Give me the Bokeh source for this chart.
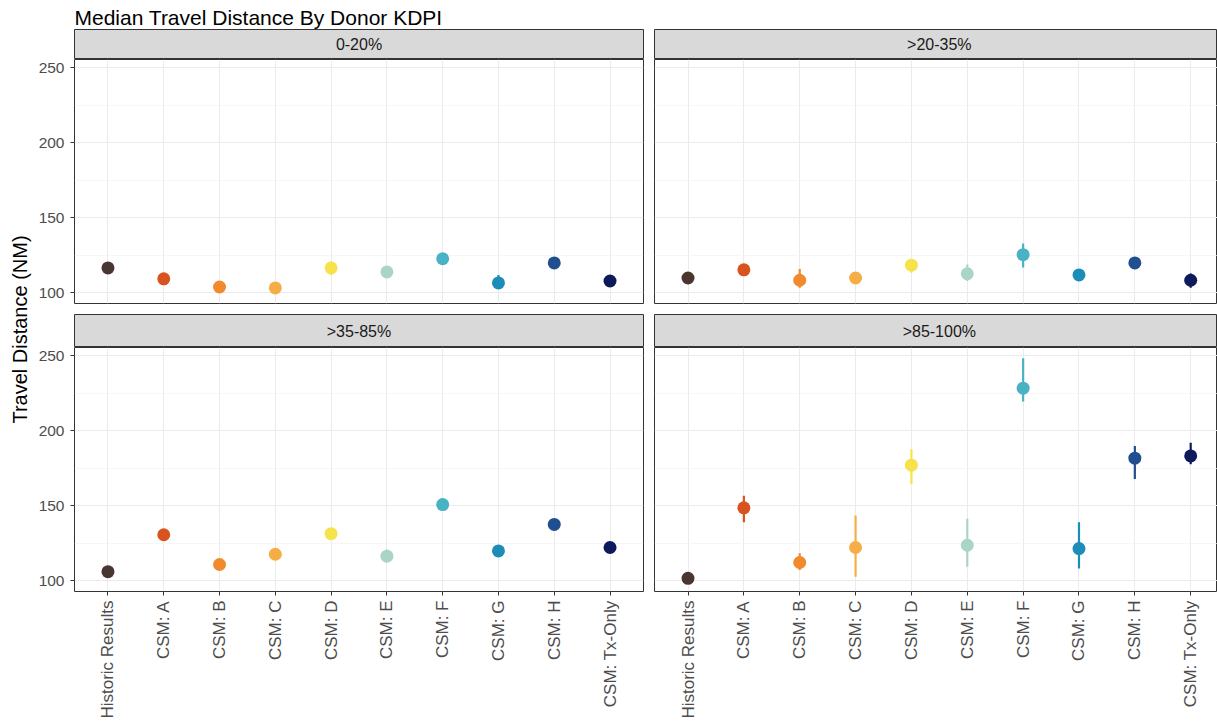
import math
from bokeh.plotting import figure
from bokeh.models import Range1d, FixedTicker, ColumnDataSource
from bokeh.layouts import row, column
from bokeh.core.properties import value
from bokeh.embed import file_html
from bokeh.resources import INLINE

# ---------------- data ----------------
categories = ["Historic Results", "CSM: A", "CSM: B", "CSM: C", "CSM: D",
              "CSM: E", "CSM: F", "CSM: G", "CSM: H", "CSM: Tx-Only"]
colors = ["#4A3631", "#D9531E", "#F08A2C", "#F5AE45", "#F6E24A",
          "#AAD5C6", "#49B3C5", "#1C8DB8", "#214E8F", "#0D1B5C"]

panel_labels = ["0-20%", ">20-35%", ">35-85%", ">85-100%"]

med_0_20 = [116.7, 109.4, 104.0, 103.4, 116.7, 114.0, 122.8, 106.7, 120.0, 108.0]
lo_0_20 = [115.0, 108.0, 102.0, 102.0, 112.0, 111.0, 120.0, 103.0, 118.0, 106.5]
hi_0_20 = [118.5, 111.0, 106.0, 105.0, 121.0, 117.0, 126.0, 112.0, 122.0, 110.0]

med_20_35 = [110.0, 115.4, 108.5, 110.0, 118.5, 112.8, 125.5, 112.0, 120.0, 108.5]
lo_20_35 = [108.5, 113.5, 103.5, 108.0, 113.5, 108.0, 117.0, 110.0, 118.0, 103.5]
hi_20_35 = [111.5, 117.5, 116.0, 112.0, 122.0, 119.0, 133.0, 114.0, 122.0, 113.0]

med_35_85 = [106.2, 130.8, 111.0, 117.8, 131.5, 116.5, 150.9, 120.0, 137.7, 122.3]
lo_35_85 = [104.5, 129.0, 109.0, 116.0, 129.5, 113.0, 149.0, 118.0, 136.0, 120.5]
hi_35_85 = [108.0, 132.5, 113.0, 119.5, 133.5, 121.0, 153.0, 122.0, 139.5, 124.0]

med_85_100 = [101.8, 148.7, 112.3, 122.3, 177.1, 123.8, 228.4, 121.6, 181.8, 183.3]
lo_85_100 = [100.5, 139.2, 107.3, 102.9, 164.6, 109.5, 219.6, 108.4, 167.9, 177.8]
hi_85_100 = [103.0, 156.8, 118.5, 143.6, 187.7, 141.4, 248.3, 139.2, 189.9, 192.1]

y_ticks = [100, 150, 200, 250]
y_minor = [125, 175, 225]

title_text = "Median Travel Distance By Donor KDPI"
y_label = "Travel Distance (NM)"

# ---------------- style / layout ----------------
FONT = "Liberation Sans"
Y_MIN, Y_MAX = 93.0, 255.5
X_START = -0.6
X_END_LEFT = len(categories) - 1 + 0.6
X_END_RIGHT = len(categories) - 1 + 0.48
YLAB_W = 34
LEFT_BORDER = 40
GAP = 11
FRAME_W_LEFT = 569
FRAME_W_RIGHT = 563
FRAME_H = 244
TITLE_H = 29
STRIP1_H = 30
STRIP2_H = 33
XLAB_H = 130
TOTAL_H = TITLE_H + STRIP1_H + FRAME_H + GAP + STRIP2_H + FRAME_H + XLAB_H
GRID_COLOR = "#EBEBEB"
BORDER_COLOR = "#333333"


def base_fig(frame_w, frame_h, xr, yr, left, **kw):
    p = figure(frame_width=frame_w, frame_height=frame_h, x_range=xr, y_range=yr,
               x_axis_location=None, y_axis_location=None,
               toolbar_location=None, output_backend="svg",
               min_border_left=(LEFT_BORDER if left else 0),
               min_border_right=(GAP if left else 0),
               min_border_top=0, min_border_bottom=0, **kw)
    return p


def make_strip(label, left, height):
    xr = Range1d(X_START, X_END_LEFT if left else X_END_RIGHT)
    s = base_fig(FRAME_W_LEFT if left else FRAME_W_RIGHT, height, xr, Range1d(0, 1), left,
                 background_fill_color="#D9D9D9")
    s.outline_line_color = BORDER_COLOR
    s.outline_line_width = 1
    s.xgrid.visible = False
    s.ygrid.visible = False
    s.text(x=[(len(categories) - 1) / 2], y=[0.5], text=[label],
           text_align="center", text_baseline="middle",
           text_font=value(FONT), text_font_size="16px", text_color="#1A1A1A")
    return s


def make_panel(med, lo, hi, left, bottom_axis):
    xr = Range1d(X_START, X_END_LEFT if left else X_END_RIGHT)
    yr = Range1d(Y_MIN, Y_MAX)
    p = figure(frame_width=FRAME_W_LEFT if left else FRAME_W_RIGHT, frame_height=FRAME_H,
               x_range=xr, y_range=yr,
               x_axis_location=("below" if bottom_axis else None),
               y_axis_location=("left" if left else None),
               toolbar_location=None, output_backend="svg",
               min_border_left=(LEFT_BORDER if left else 0),
               min_border_right=(GAP if left else 0),
               min_border_top=0,
               min_border_bottom=(XLAB_H if bottom_axis else GAP))
    p.outline_line_color = BORDER_COLOR
    p.outline_line_width = 1

    xt = FixedTicker(ticks=list(range(len(categories))))
    yt = FixedTicker(ticks=y_ticks, minor_ticks=y_minor)
    p.xgrid.ticker = xt
    p.ygrid.ticker = yt
    for g in (p.xgrid, p.ygrid):
        g.grid_line_color = GRID_COLOR
        g.grid_line_width = 1
    p.ygrid.minor_grid_line_color = "#F2F2F2"
    p.ygrid.minor_grid_line_width = 0.7

    if left:
        ax = p.yaxis[0]
        ax.ticker = yt
        ax.axis_line_color = None
        ax.major_tick_line_color = BORDER_COLOR
        ax.major_tick_out = 4
        ax.major_tick_in = 0
        ax.minor_tick_line_color = None
        ax.major_label_standoff = 6
        ax.major_label_text_font = FONT
        ax.major_label_text_font_size = "15.5px"
        ax.major_label_text_color = "#4D4D4D"
    if bottom_axis:
        ax = p.xaxis[0]
        ax.ticker = xt
        ax.major_label_overrides = {i: c for i, c in enumerate(categories)}
        ax.major_label_orientation = math.pi / 2
        ax.axis_line_color = None
        ax.major_tick_line_color = BORDER_COLOR
        ax.major_tick_out = 4
        ax.major_tick_in = 0
        ax.minor_tick_line_color = None
        ax.major_label_standoff = 5
        ax.major_label_text_font = FONT
        ax.major_label_text_font_size = "17px"
        ax.major_label_text_color = "#4D4D4D"

    src = ColumnDataSource(dict(x=list(range(len(categories))), med=med, lo=lo, hi=hi, color=colors))
    p.segment(x0="x", y0="lo", x1="x", y1="hi", line_color="color", line_width=2.2, source=src)
    p.scatter(x="x", y="med", size=13, fill_color="color", line_color=None, source=src)
    return p


# title row
main_w = LEFT_BORDER + FRAME_W_LEFT + GAP + FRAME_W_RIGHT
title_fig = figure(frame_width=main_w, frame_height=TITLE_H, x_range=Range1d(0, main_w),
                   y_range=Range1d(0, TITLE_H),
                   x_axis_location=None, y_axis_location=None, toolbar_location=None,
                   output_backend="svg", min_border=0)
title_fig.outline_line_color = None
title_fig.xgrid.visible = False
title_fig.ygrid.visible = False
title_fig.text(x=[LEFT_BORDER], y=[TITLE_H - 16.5], text=[title_text], text_align="left",
               text_baseline="middle",
               text_font=value(FONT), text_font_size="21px", text_color="#000000")

# y label column
ylab_fig = figure(frame_width=YLAB_W, frame_height=TOTAL_H, x_range=Range1d(0, YLAB_W),
                  y_range=Range1d(0, TOTAL_H), x_axis_location=None, y_axis_location=None,
                  toolbar_location=None, output_backend="svg", min_border=0)
ylab_fig.outline_line_color = None
ylab_fig.xgrid.visible = False
ylab_fig.ygrid.visible = False
ylab_fig.text(x=[19.5], y=[TOTAL_H - 329], text=[y_label], angle=math.pi / 2,
              text_align="center", text_baseline="middle",
              text_font=value(FONT), text_font_size="20px", text_color="#000000")

strip_tl = make_strip(panel_labels[0], True, STRIP1_H)
strip_tr = make_strip(panel_labels[1], False, STRIP1_H)
strip_bl = make_strip(panel_labels[2], True, STRIP2_H)
strip_br = make_strip(panel_labels[3], False, STRIP2_H)

p_tl = make_panel(med_0_20, lo_0_20, hi_0_20, True, False)
p_tr = make_panel(med_20_35, lo_20_35, hi_20_35, False, False)
p_bl = make_panel(med_35_85, lo_35_85, hi_35_85, True, True)
p_br = make_panel(med_85_100, lo_85_100, hi_85_100, False, True)

main = column(title_fig,
              row(strip_tl, strip_tr, spacing=0),
              row(p_tl, p_tr, spacing=0),
              row(strip_bl, strip_br, spacing=0),
              row(p_bl, p_br, spacing=0),
              spacing=0)
layout = row(ylab_fig, main, spacing=0)

open("out.html", "w").write(file_html(layout, INLINE))
